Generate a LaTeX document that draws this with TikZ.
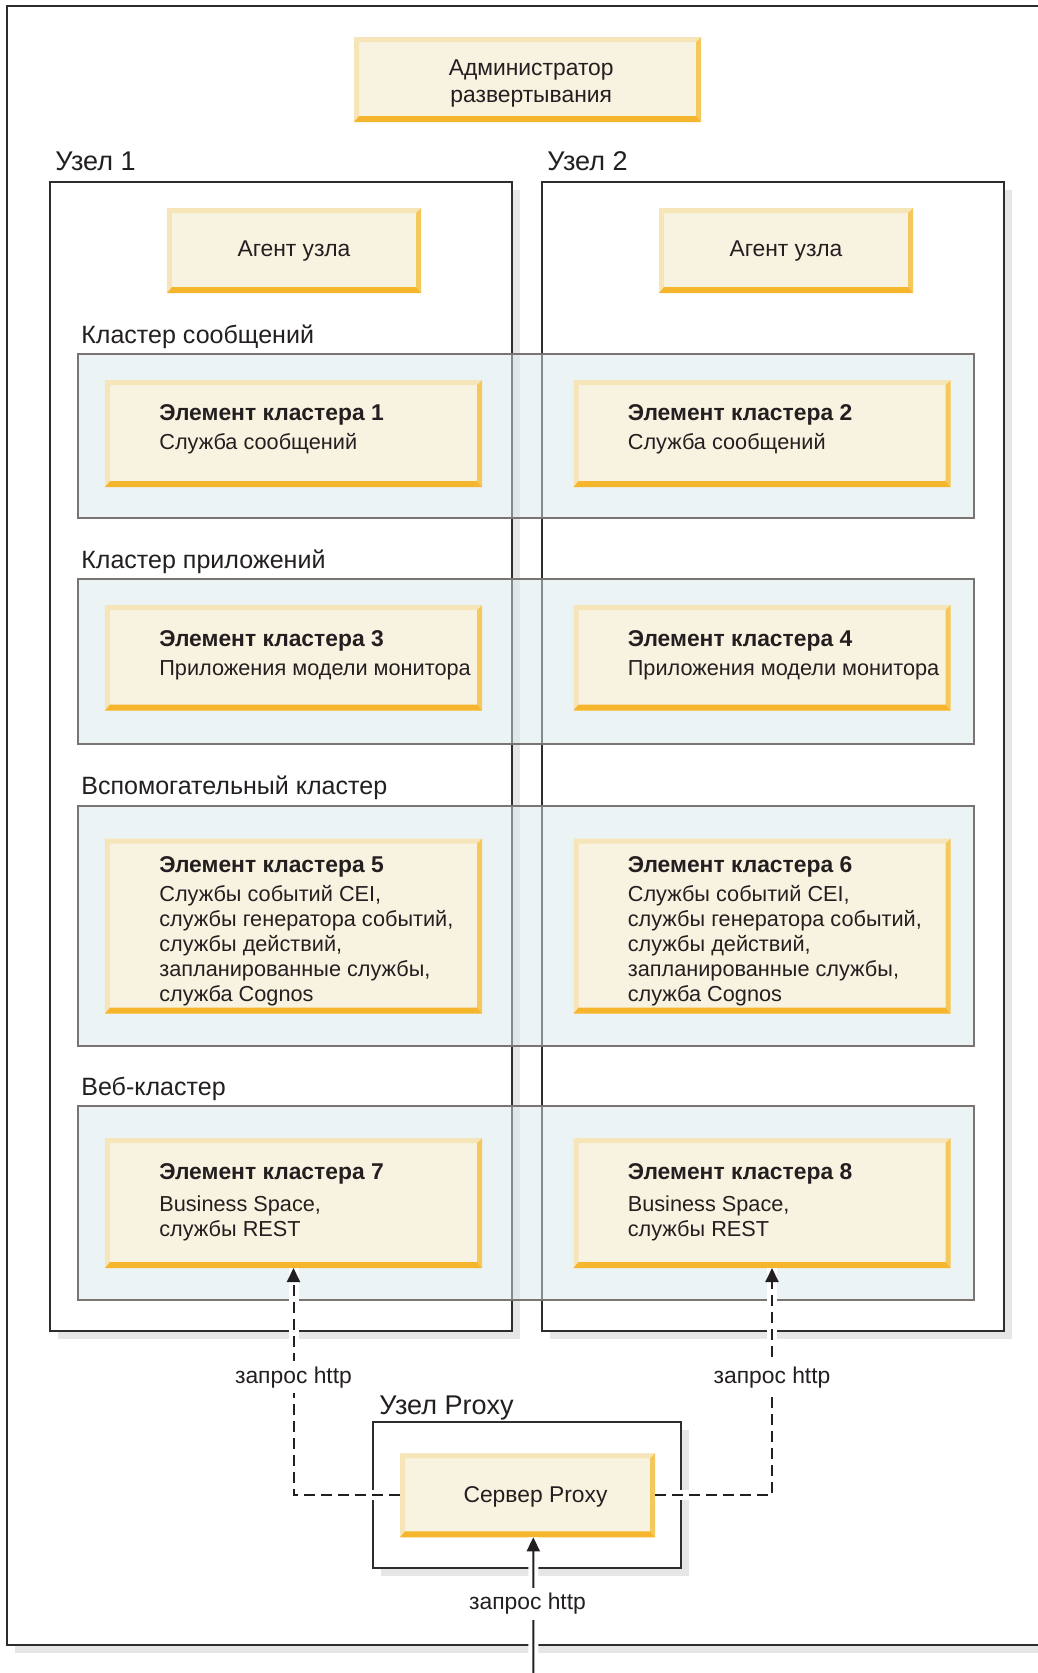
\documentclass[tikz,border=0pt]{standalone}
\usepackage{fontspec}
\setmainfont{Liberation Sans}
\usepackage{xcolor}
\usepackage{tikz}
\usetikzlibrary{arrows.meta,positioning,shadows}
\definecolor{ink}{HTML}{231F20}
\definecolor{frameline}{HTML}{2E2C2D}
\definecolor{shadowgray}{HTML}{E6E6E6}
\definecolor{bandline}{HTML}{7A7472}
\definecolor{bandfill}{HTML}{D9E9ED}
\definecolor{boxfill}{HTML}{F8F2E0}
\definecolor{bevlight}{HTML}{F7E5BA}
\definecolor{bevright}{HTML}{F5C85B}
\definecolor{bevbottom}{HTML}{F5B52D}
\newcommand{\membertitle}[1]{{\fontsize{13}{14.2}\selectfont\bfseries #1}}
\tikzset{
    boxfont/.style={font=\fontsize{13}{14.2}\selectfont},
    bodyfont/.style={font=\fontsize{12.35}{14.2}\selectfont},
    frameshadow/.style={drop shadow={shadow xshift=1.6mm,shadow yshift=-1.6mm,
      fill=shadowgray,opacity=1}},
    outerframe/.style={draw=frameline,line width=0.5mm,fill=white,frameshadow},
    nodeframe/.style={draw=frameline,line width=0.4mm,fill=white,frameshadow,inner sep=0pt},
    band/.style={draw=bandline,line width=0.4mm,fill=bandfill,fill opacity=0.5,
      inner sep=0pt,minimum width=179.2mm},
    yellowbox/.style={fill=boxfill,inner sep=0pt,outer sep=0pt,
      path picture={
        \path (path picture bounding box.north west) coordinate (bnw)
              (path picture bounding box.north east) coordinate (bne)
              (path picture bounding box.south west) coordinate (bsw)
              (path picture bounding box.south east) coordinate (bse);
        \fill[bevlight] (bnw) -- (bne) -- ([shift={(-5,5)}]bne) -- ([shift={(5,5)}]bnw) -- cycle;
        \fill[bevlight] (bnw) -- (bsw) -- ([shift={(5,-6)}]bsw) -- ([shift={(5,5)}]bnw) -- cycle;
        \fill[bevright] (bne) -- (bse) -- ([shift={(-5,-6)}]bse) -- ([shift={(-5,5)}]bne) -- cycle;
        \fill[bevbottom] (bsw) -- (bse) -- ([shift={(-5,-6)}]bse) -- ([shift={(5,-6)}]bsw) -- cycle;
      }},
    elembox/.style={yellowbox,minimum width=75.4mm},
    boxtext/.style={inner sep=0pt,text=ink,boxfont,align=center},
    elemtext/.style={inner sep=0pt,text=ink,bodyfont,align=left},
    nodehead/.style={inner sep=0pt,anchor=base west,text=ink,font=\fontsize{15.4}{17}\selectfont},
    clusterhead/.style={inner sep=0pt,anchor=base west,text=ink,font=\fontsize{14.25}{17}\selectfont},
    casing/.style={preaction={draw=white,line width=2mm,solid,-,line cap=butt}},
    request/.style={-{Triangle[length=2.8mm,width=2.6mm]},draw=ink,line width=0.4mm,casing},
    dashedrequest/.style={request,dash pattern=on 2.2mm off 1.2mm},
    reqlabel/.style={fill=white,inner xsep=1pt,inner ysep=3pt,text=ink,boxfont}
}

\begin{document}
\begin{tikzpicture}[x=0.2mm,y=-0.2mm]
  \useasboundingbox (0,0) rectangle (1037,1673);
  \draw[outerframe] (7,6) rectangle (1060,1645);

  \node[yellowbox,minimum width=69.4mm,minimum height=17mm] (admin) at (527.5,79.5) {};
  \node[boxtext] (admintxt) at ([shift={(3.7,4.3)}]admin.center) {Администратор\\[1.2pt]развертывания};

  % servers
  \node[nodeframe,minimum width=92.4mm,minimum height=229.6mm] (node1) at (281,756.5) {};
  \node[nodeframe,minimum width=92.4mm,minimum height=229.6mm] (node2) at (773,756.5) {};
  \node[nodehead] (node1lbl) at (55,170) {Узел 1};
  \node[nodehead] (node2lbl) at (547,170) {Узел 2};
  \node[yellowbox,minimum width=50.8mm,minimum height=17mm] (agent1) at (294,250.5) {};
  \node[yellowbox,minimum width=50.8mm,minimum height=17mm] (agent2) at (786,250.5) {};
  \node[boxtext] (agent1txt) at ([shift={(0,1)}]agent1.center) {Агент узла};
  \node[boxtext] (agent2txt) at ([shift={(0,1)}]agent2.center) {Агент узла};

  % clusters
  \node[band,minimum height=32.8mm] (msgcl) at (526,436) {};
  \node[band,minimum height=32.9mm] (appcl) at (526,661.25) {};
  \node[band,minimum height=48mm] (supcl) at (526,925.5) {};
  \node[band,minimum height=38.8mm] (webcl) at (526,1203) {};
  \node[clusterhead] (msglbl) at (81,343) {Кластер сообщений};
  \node[clusterhead] (applbl) at (81,568) {Кластер приложений};
  \node[clusterhead] (suplbl) at (81,794.5) {Вспомогательный кластер};
  \node[clusterhead] (weblbl) at (81,1095) {Веб-кластер};

  % cluster members
  \node[elembox,minimum height=21.4mm] (e1) at (293.5,433.5) {};
  \node[elembox,minimum height=21.4mm] (e2) at (762,433.5) {};
  \node[elembox,minimum height=21.1mm] (e3) at (293.5,657.75) {};
  \node[elembox,minimum height=21.1mm] (e4) at (762,657.75) {};
  \node[elembox,minimum height=35mm] (e5) at (293.5,926.1) {};
  \node[elembox,minimum height=35mm] (e6) at (762,926.1) {};
  \node[elembox,minimum height=26mm] (e7) at (293.5,1203) {};
  \node[elembox,minimum height=26mm] (e8) at (762,1203) {};
  \node[elemtext,right=10.8mm of e1.west,yshift=0.9mm] (t1) {\membertitle{Элемент кластера 1}\\[2.5pt]Служба сообщений};
  \node[elemtext,right=10.8mm of e2.west,yshift=0.9mm] (t2) {\membertitle{Элемент кластера 2}\\[2.5pt]Служба сообщений};
  \node[elemtext,right=10.8mm of e3.west,yshift=0.45mm] (t3) {\membertitle{Элемент кластера 3}\\[2.5pt]Приложения модели монитора};
  \node[elemtext,right=10.8mm of e4.west,yshift=0.45mm] (t4) {\membertitle{Элемент кластера 4}\\[2.5pt]Приложения модели монитора};
  \node[elemtext,right=10.8mm of e5.west,yshift=-1mm] (t5) {\membertitle{Элемент кластера 5}\\[2.5pt]Службы событий CEI,\\службы генератора событий,\\службы действий,\\запланированные службы,\\служба Cognos};
  \node[elemtext,right=10.8mm of e6.west,yshift=-1mm] (t6) {\membertitle{Элемент кластера 6}\\[2.5pt]Службы событий CEI,\\службы генератора событий,\\службы действий,\\запланированные службы,\\служба Cognos};
  \node[elemtext,right=10.8mm of e7.west,yshift=0.2mm] (t7) {\membertitle{Элемент кластера 7}\\[4pt]Business Space,\\службы REST};
  \node[elemtext,right=10.8mm of e8.west,yshift=0.2mm] (t8) {\membertitle{Элемент кластера 8}\\[4pt]Business Space,\\службы REST};

  % proxy
  \node[nodeframe,minimum width=61.6mm,minimum height=29.2mm] (proxynode) at (527,1495.4) {};
  \node[nodehead] (proxylbl) at (379,1414) {Узел Proxy};
  \node[yellowbox,minimum width=51mm,minimum height=16.8mm] (proxysrv) at (527.5,1495.3) {};
  \node[boxtext] (proxysrvtxt) at ([shift={(8,1.5)}]proxysrv.center) {Сервер Proxy};
  \coordinate (incoming) at (533.3,1690);

  \draw[dashedrequest] (proxysrv.west) -| node[reqlabel,pos=0.76] (req1) {запрос http} (e7.south);
  \draw[dashedrequest] (proxysrv.east) -| node[reqlabel,pos=0.76] (req2) {запрос http} ([xshift=2mm]e8.south);
  \draw[request] (incoming) -- node[reqlabel,pos=0.565,xshift=-1.16mm] (req3) {запрос http} ([xshift=1.16mm]proxysrv.south);
\end{tikzpicture}
\end{document}
